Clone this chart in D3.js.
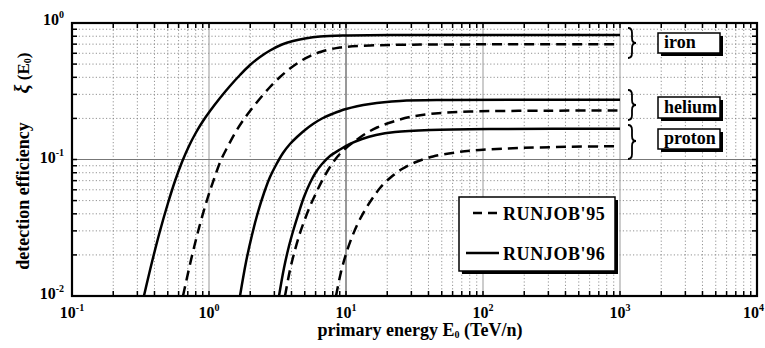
<!DOCTYPE html>
<html>
<head>
<meta charset="utf-8">
<script src="https://cdn.jsdelivr.net/npm/d3@7"></script>
<style>
  html, body { margin: 0; padding: 0; background: #fff; }
  svg { display: block; }
  text { font-family: "Liberation Serif", "Times New Roman", serif; font-weight: bold; fill: #000; }
</style>
</head>
<body>
<svg id="chart" width="765" height="348"></svg>
<script>
// Detection efficiency ξ(E0) vs primary energy per nucleon, two exposures

// energies (TeV/n) and efficiencies, one pair of arrays per curve
const ironE96 = [0.335, 0.3836, 0.4387, 0.5021, 0.5647, 0.6353, 0.7145, 0.8038, 0.9042, 1.017, 1.203, 1.423, 1.684, 1.992, 2.357, 2.788, 3.411, 4.104, 5.020, 6.461, 9.83, 24.8, 1000];
const ironXi96 = [0.010, 0.01774, 0.02994, 0.0480, 0.0696, 0.09587, 0.1256, 0.1577, 0.1914, 0.2266, 0.2822, 0.3455, 0.416, 0.4923, 0.5636, 0.6288, 0.696, 0.738, 0.770, 0.796, 0.810, 0.817, 0.817];

const ironE95 = [0.646, 0.7389, 0.8453, 0.967, 1.088, 1.224, 1.376, 1.548, 1.741, 1.992, 2.357, 2.788, 3.298, 3.901, 4.615, 5.460, 6.682, 9.04, 14.97, 34.7, 1000];
const ironXi95 = [0.010, 0.01835, 0.0315, 0.0505, 0.0720, 0.0992, 0.1256, 0.1563, 0.1883, 0.2266, 0.2798, 0.3398, 0.4022, 0.4642, 0.5224, 0.573, 0.6182, 0.6614, 0.6843, 0.6945, 0.698];

const heliumE96 = [1.684, 1.863, 2.060, 2.279, 2.520, 2.788, 3.083, 3.469, 3.901, 4.388, 5.020, 5.742, 6.682, 7.904, 10.0, 14.97, 24.8, 57.4, 1000];
const heliumXi96 = [0.010, 0.01774, 0.02798, 0.04124, 0.05683, 0.07443, 0.0911, 0.1116, 0.1299, 0.1462, 0.1645, 0.182, 0.1997, 0.2154, 0.2344, 0.255, 0.2683, 0.2728, 0.2737];

const heliumE95 = [3.587, 3.901, 4.243, 4.615, 5.020, 5.553, 6.143, 6.796, 7.643, 8.741, 10.0, 11.63, 13.76, 16.84, 21.67, 29.33, 44.63, 80.37, 308.4, 1000];
const heliumXi95 = [0.010, 0.0155, 0.02173, 0.02894, 0.03665, 0.04721, 0.05876, 0.0720, 0.0881, 0.1061, 0.1214, 0.1366, 0.1537, 0.1716, 0.1883, 0.2048, 0.2173, 0.2247, 0.2278, 0.2286];

const protonE96 = [3.243, 3.527, 3.836, 4.173, 4.538, 4.936, 5.460, 6.039, 6.682, 7.643, 9.04, 10.70, 13.09, 16.56, 22.79, 41.04, 133.1, 1000];
const protonXi96 = [0.010, 0.01604, 0.02324, 0.0315, 0.04124, 0.05313, 0.06727, 0.08098, 0.09268, 0.1061, 0.1184, 0.1299, 0.1413, 0.1512, 0.159, 0.1645, 0.1673, 0.1679];

const protonE95 = [8.453, 9.194, 10.0, 11.06, 12.24, 13.76, 15.48, 17.71, 20.95, 25.63, 32.43, 43.15, 62.45, 95.08, 186.2, 431.5, 1000];
const protonXi95 = [0.010, 0.01499, 0.0203, 0.02705, 0.03425, 0.04266, 0.05135, 0.0618, 0.07318, 0.08518, 0.09587, 0.1052, 0.1125, 0.1174, 0.1214, 0.1239, 0.1252];

// axis decades
const xDecades = [-1, 0, 1, 2, 3, 4];
const yDecades = [0, -1, -2];

const legendLabels = ["RUNJOB'95", "RUNJOB'96"];
const speciesLabels = ["iron", "helium", "proton"];

const svg = d3.select("#chart");
const W = 765, H = 348;
const m = { left: 72, right: 8, top: 23, bottom: 52 };
const x0 = m.left, x1 = W - m.right, y0 = m.top, y1 = H - m.bottom;

const x = d3.scaleLog().domain([0.1, 10000]).range([x0, x1]);
const y = d3.scaleLog().domain([0.01, 1]).range([y1, y0]);

svg.append("rect").attr("width", W).attr("height", H).attr("fill", "#fff");

// minor positions (2..9 within every decade) and major positions
const minorX = [], minorY = [];
for (let e = -1; e < 4; e++) for (let k = 2; k <= 9; k++) minorX.push(k * Math.pow(10, e));
for (let e = -2; e < 0; e++) for (let k = 2; k <= 9; k++) minorY.push(k * Math.pow(10, e));
const majorXInner = [1, 10, 100, 1000];
const majorYInner = [0.1];

const grid = svg.append("g");
grid.selectAll("line.vx").data(minorX).join("line")
  .attr("x1", d => x(d)).attr("x2", d => x(d)).attr("y1", y0).attr("y2", y1)
  .attr("stroke", "#777").attr("stroke-width", 0.8).attr("stroke-dasharray", "1.2,2.2");
grid.selectAll("line.hy").data(minorY).join("line")
  .attr("x1", x0).attr("x2", x1).attr("y1", d => y(d)).attr("y2", d => y(d))
  .attr("stroke", "#777").attr("stroke-width", 0.8).attr("stroke-dasharray", "1.2,2.2");
grid.selectAll("line.mx").data(majorXInner).join("line")
  .attr("x1", d => x(d)).attr("x2", d => x(d)).attr("y1", y0).attr("y2", y1)
  .attr("stroke", d => d === 10 ? "#333" : "#999").attr("stroke-width", 1);
grid.selectAll("line.my").data(majorYInner).join("line")
  .attr("x1", x0).attr("x2", x1).attr("y1", d => y(d)).attr("y2", d => y(d))
  .attr("stroke", "#777").attr("stroke-width", 1);

// inward ticks on all four sides
const allX = minorX.concat(majorXInner);
const allY = minorY.concat(majorYInner);
const ticks = svg.append("g").attr("stroke", "#000").attr("stroke-width", 1.5);
ticks.selectAll("line.tb").data(allX).join("line")
  .attr("x1", d => x(d)).attr("x2", d => x(d)).attr("y1", y1).attr("y2", y1 - 5);
ticks.selectAll("line.tt").data(allX).join("line")
  .attr("x1", d => x(d)).attr("x2", d => x(d)).attr("y1", y0).attr("y2", y0 + 5);
ticks.selectAll("line.tl").data(allY).join("line")
  .attr("x1", x0).attr("x2", x0 + 5).attr("y1", d => y(d)).attr("y2", d => y(d));
ticks.selectAll("line.tr").data(allY).join("line")
  .attr("x1", x1).attr("x2", x1 - 5).attr("y1", d => y(d)).attr("y2", d => y(d));

// curves
svg.append("defs").append("clipPath").attr("id", "plotClip")
  .append("rect").attr("x", x0).attr("y", y0).attr("width", x1 - x0).attr("height", y1 - y0);

const line = d3.line().x(d => x(d[0])).y(d => y(d[1])).curve(d3.curveCatmullRom.alpha(0.5));
const series = [
  { E: ironE96, xi: ironXi96, dashed: false },
  { E: ironE95, xi: ironXi95, dashed: true },
  { E: heliumE96, xi: heliumXi96, dashed: false },
  { E: heliumE95, xi: heliumXi95, dashed: true },
  { E: protonE96, xi: protonXi96, dashed: false },
  { E: protonE95, xi: protonXi95, dashed: true }
];
const curves = svg.append("g").attr("clip-path", "url(#plotClip)");
curves.selectAll("path").data(series).join("path")
  .attr("d", s => line(s.E.map((e, i) => [e, s.xi[i]])))
  .attr("fill", "none").attr("stroke", "#000").attr("stroke-width", 2.5)
  .attr("stroke-dasharray", s => s.dashed ? "10,6" : null);

// frame
svg.append("rect").attr("x", x0).attr("y", y0).attr("width", x1 - x0).attr("height", y1 - y0)
  .attr("fill", "none").attr("stroke", "#000").attr("stroke-width", 2.2);

// power-of-ten labels
function powLabel(g, base, exp) {
  g.append("tspan").text(base);
  g.append("tspan").attr("dy", -7).attr("font-size", 10).text(exp);
}
xDecades.forEach(e => {
  const last = e === xDecades[xDecades.length - 1];
  const t = svg.append("text")
    .attr("x", last ? W - 1 : x(Math.pow(10, e)))
    .attr("y", 318)
    .attr("text-anchor", last ? "end" : "middle").attr("font-size", 16);
  powLabel(t, "10", String(e));
});
yDecades.forEach(e => {
  const v = Math.pow(10, e);
  const t = svg.append("text").attr("x", 64).attr("y", y(v) + (e === 0 ? 2 : 3))
    .attr("text-anchor", "end").attr("font-size", 16);
  powLabel(t, "10", String(e));
});

// axis titles
const xt = svg.append("text").attr("x", 420).attr("y", 336).attr("text-anchor", "middle").attr("font-size", 18);
xt.append("tspan").text("primary energy E");
xt.append("tspan").attr("font-size", 10).attr("dy", 2).text("0");
xt.append("tspan").attr("dy", -2).text(" (TeV/n)");

svg.append("text").attr("transform", "translate(29,196) rotate(-90)")
  .attr("text-anchor", "middle").attr("font-size", 18).text("detection efficiency");
const yt = svg.append("text").attr("transform", "translate(29,73) rotate(-90)")
  .attr("text-anchor", "middle").attr("font-size", 17);
yt.append("tspan").attr("font-style", "italic").attr("font-size", 20).text("ξ");
yt.append("tspan").text(" (E");
yt.append("tspan").attr("font-size", 10).attr("dy", 2).text("0");
yt.append("tspan").attr("dy", -2).text(")");

// braces grouping each species pair
function bracePath(bx, top, bottom, mid, w) {
  const c = bx + w / 2, r = 5;
  return `M${bx},${top} Q${c},${top} ${c},${top + r} L${c},${mid - r} Q${c},${mid} ${bx + w},${mid}` +
         ` Q${c},${mid} ${c},${mid + r} L${c},${bottom - r} Q${c},${bottom} ${bx},${bottom}`;
}
const braces = [
  { top: 28, bottom: 58, mid: 43 },
  { top: 90, bottom: 120, mid: 105 },
  { top: 125, bottom: 159, mid: 141 }
];
svg.selectAll("path.brace").data(braces).join("path")
  .attr("d", b => bracePath(628, b.top, b.bottom, b.mid, 8))
  .attr("fill", "none").attr("stroke", "#000").attr("stroke-width", 1.8);

// species labels in shadowed boxes
const boxes = [
  { y: 33, h: 20, ty: 48 },
  { y: 97, h: 21, ty: 112.5 },
  { y: 129, h: 20, ty: 144 }
];
speciesLabels.forEach((lab, i) => {
  const b = boxes[i];
  svg.append("rect").attr("x", 661).attr("y", b.y + 3).attr("width", 62).attr("height", b.h).attr("fill", "#000");
  svg.append("rect").attr("x", 658).attr("y", b.y).attr("width", 62).attr("height", b.h)
    .attr("fill", "#fff").attr("stroke", "#000").attr("stroke-width", 1.5);
  svg.append("text").attr("x", 664).attr("y", b.ty).attr("font-size", 18).text(lab);
});

// legend
const lg = svg.append("g");
lg.append("rect").attr("x", 462).attr("y", 200).attr("width", 156).attr("height", 74).attr("fill", "#000");
lg.append("rect").attr("x", 459).attr("y", 197).attr("width", 156).attr("height", 74)
  .attr("fill", "#fff").attr("stroke", "#000").attr("stroke-width", 1.5);
lg.append("line").attr("x1", 473).attr("x2", 499).attr("y1", 213).attr("y2", 213)
  .attr("stroke", "#000").attr("stroke-width", 2.5).attr("stroke-dasharray", "9,6");
lg.append("line").attr("x1", 466).attr("x2", 499).attr("y1", 253).attr("y2", 253)
  .attr("stroke", "#000").attr("stroke-width", 2.5);
lg.append("text").attr("x", 503).attr("y", 220).attr("font-size", 18).attr("letter-spacing", 0.6).text(legendLabels[0]);
lg.append("text").attr("x", 503).attr("y", 260).attr("font-size", 18).attr("letter-spacing", 0.6).text(legendLabels[1]);
</script>
</body>
</html>
